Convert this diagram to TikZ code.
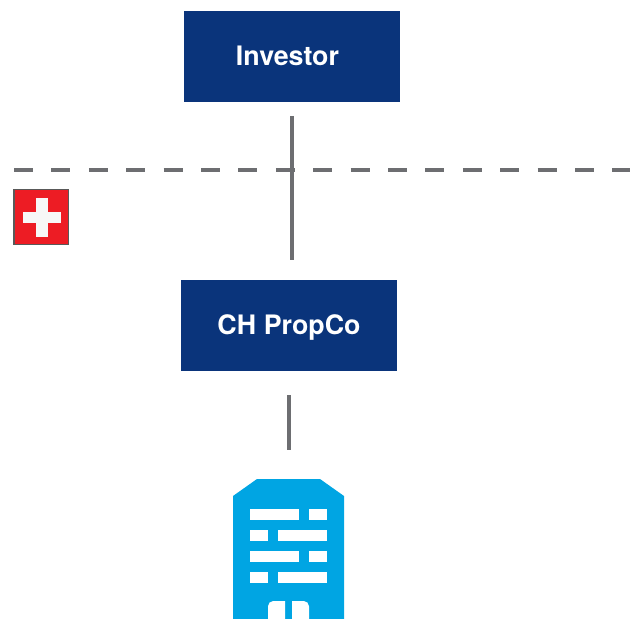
\documentclass[tikz,border=0pt]{standalone}
\usepackage{fontspec}
\setmainfont{TeX Gyre Heros}
\definecolor{boxblue}{HTML}{0A347B}
\definecolor{towerblue}{HTML}{00A5E3}
\definecolor{linegray}{HTML}{6D6E71}
\definecolor{flagred}{HTML}{ED1C24}
\tikzset{
  entity/.style={fill=boxblue, text=white, minimum width=4.32cm, minimum height=1.82cm, inner sep=0pt, text height=0.4cm, text depth=0.04cm, font=\fontsize{15.25}{18}\selectfont\bfseries},
  link/.style={linegray, line width=1.75pt},
}
\begin{document}
\begin{tikzpicture}[x=0.02cm,y=-0.02cm]
	\useasboundingbox (0,0) rectangle (630,619);
	\node[entity] (investor) at (292,56.5) {Investor\kern0.18cm};
	\node[entity] (propco) at (289,325.5) {CH PropCo};
	\coordinate (borderleft) at (14,170);
	\coordinate (borderright) at (630,170);
	\coordinate (towertop) at (289.5,479);
	% connectors
	\draw[link, dash pattern=on 19*0.02cm off 18.4*0.02cm] (borderleft) -- (borderright);
	\draw[link, shorten <=13.5*0.02cm, shorten >=20*0.02cm] (investor.south) -- (investor.south |- propco.north);
	\draw[link, shorten <=24*0.02cm, shorten >=29*0.02cm] (propco.south) -- (propco.south |- towertop);
	% flag
	\filldraw[color=black!65, fill=flagred, line width=0.7pt] (14,189.5) rectangle (68.5,244.5);
	\fill[white!97!black] (36,198) rectangle (47.5,237);
	\fill[white!97!black] (23,211.5) rectangle (61,223);
	% tower
	\fill[towerblue] (233,619) -- (233,496) -- (257,479) -- (320,479) -- (344,496) -- (344,619) -- cycle;
	\foreach \rowy/\xa/\xb/\xc/\xd in {509/250/299/309/327, 530/250/268/278/327, 551/250/299/309/327, 572/250/268/278/327} {
		\fill[white] (\xa,\rowy) rectangle (\xb,\rowy+10.5);
		\fill[white] (\xc,\rowy) rectangle (\xd,\rowy+10.5);
	}
	\fill[white] (285,619) -- (285,601) -- (273,601) [rounded corners=3pt] -- (268,601) [sharp corners] -- (268,619) -- cycle;
	\fill[white] (292,619) -- (292,601) -- (304,601) [rounded corners=3pt] -- (309,601) [sharp corners] -- (309,619) -- cycle;
\end{tikzpicture}
\end{document}
